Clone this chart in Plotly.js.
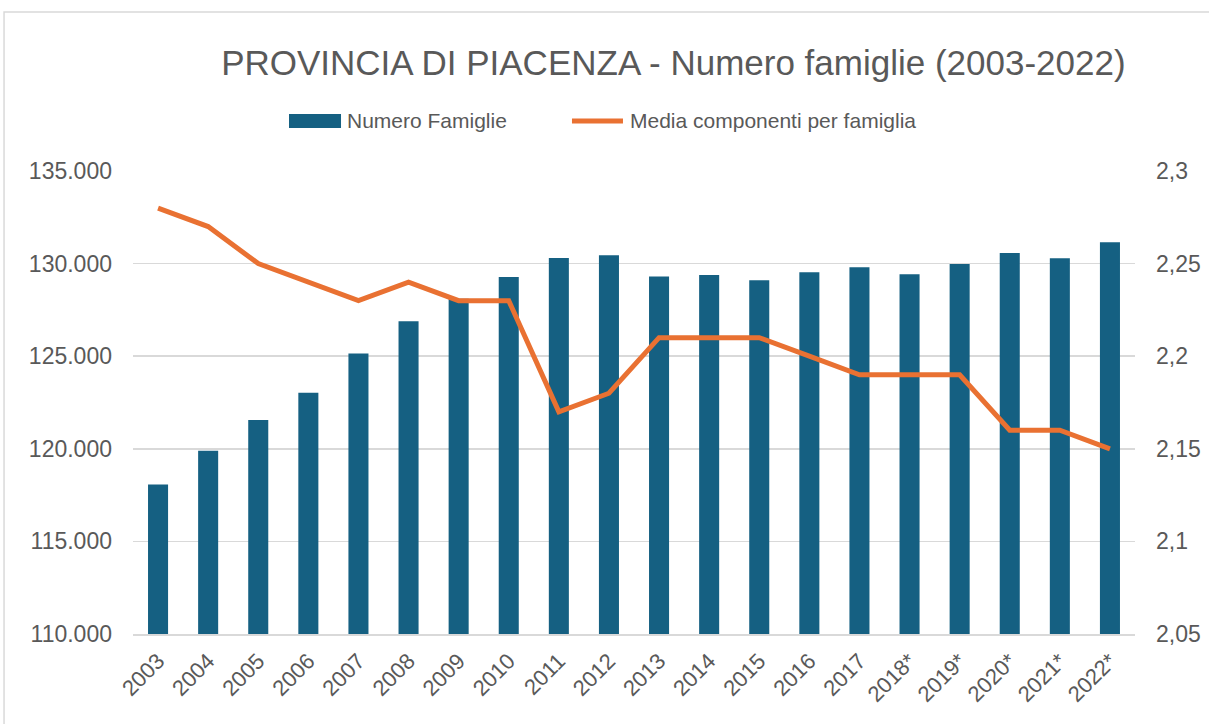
<!DOCTYPE html>
<html><head><meta charset="utf-8">
<script src="https://cdn.plot.ly/plotly-3.0.1.min.js"></script>
<style>html,body{margin:0;padding:0;background:#fff;}#chart{width:1209px;height:724px;}</style>
</head><body><div id="chart"></div>
<script>
const years = ["2003","2004","2005","2006","2007","2008","2009","2010","2011","2012","2013","2014","2015","2016","2017","2018*","2019*","2020*","2021*","2022*"];
const famiglie = [118070,119890,121550,123030,125140,126890,128100,129280,130300,130450,129300,129390,129100,129530,129800,129420,129980,130570,130290,131150];
const mediaComponenti = [2.28,2.27,2.25,2.24,2.23,2.24,2.23,2.23,2.17,2.18,2.21,2.21,2.21,2.20,2.19,2.19,2.19,2.16,2.16,2.15];
const leftTicks = [110000,115000,120000,125000,130000,135000];
const rightTicks = [2.05,2.1,2.15,2.2,2.25,2.3];
const seriesNames = ['Numero Famiglie','Media componenti per famiglia'];

const gray = '#595959';
const blue = '#156082';
const orange = '#E97132';
const traces = [
  {type:'bar', x:years, y:famiglie, name:seriesNames[0], marker:{color:blue}, width:0.4, yaxis:'y'},
  {type:'scatter', mode:'lines', x:years, y:mediaComponenti, name:seriesNames[1], line:{color:orange, width:5}, yaxis:'y2'}
];
const layout = {
  width:1209, height:724,
  separators: ',.',
  margin:{l:133, r:74, t:171, b:90},
  paper_bgcolor:'#fff', plot_bgcolor:'#fff',
  font:{family:'Liberation Sans, Arial, sans-serif', color:gray, size:21},
  title:{text:'PROVINCIA DI PIACENZA - Numero famiglie (2003-2022)', font:{size:35, color:gray}, xref:'container', x:0.557, xanchor:'center', yref:'container', y:0.913, yanchor:'middle'},
  showlegend:false,
  xaxis:{type:'category', tickangle:-45, tickfont:{size:22, color:gray}, showline:true, linecolor:'#d9d9d9', linewidth:1.5, ticks:'', showgrid:false, ticklabelstandoff:4},
  yaxis:{range:[110000,135000], tickvals:leftTicks, tickformat:',d', showgrid:true, gridcolor:'#d9d9d9', gridwidth:1.5, zeroline:false, tickfont:{size:23,color:gray}, ticks:'', ticklabelstandoff:20, automargin:false},
  yaxis2:{range:[2.05,2.3], tickvals:rightTicks, overlaying:'y', side:'right', showgrid:false, zeroline:false, tickfont:{size:23,color:gray}, ticklabelstandoff:20, automargin:false},
  shapes:[
    {type:'rect', xref:'paper', yref:'paper', x0:-0.1287, x1:1.2, y0:-0.4, y1:1.3434, line:{color:'#d9d9d9', width:1.5}, fillcolor:'rgba(0,0,0,0)', layer:'below'},
    {type:'rect', xref:'paper', yref:'paper', x0:0.1557, x1:0.2076, y0:1.0929, y1:1.1231, line:{width:0}, fillcolor:blue},
    {type:'line', xref:'paper', yref:'paper', x0:0.4381, x1:0.4890, y0:1.108, y1:1.108, line:{color:orange, width:5}}
  ],
  annotations:[
    {xref:'paper', yref:'paper', x:0.2116, y:1.108, xanchor:'left', yanchor:'middle', text:seriesNames[0], showarrow:false, font:{size:21, color:gray}},
    {xref:'paper', yref:'paper', x:0.494, y:1.108, xanchor:'left', yanchor:'middle', text:seriesNames[1], showarrow:false, font:{size:21, color:gray}}
  ]
};
Plotly.newPlot('chart', traces, layout, {displayModeBar:false, staticPlot:true});
</script></body></html>
